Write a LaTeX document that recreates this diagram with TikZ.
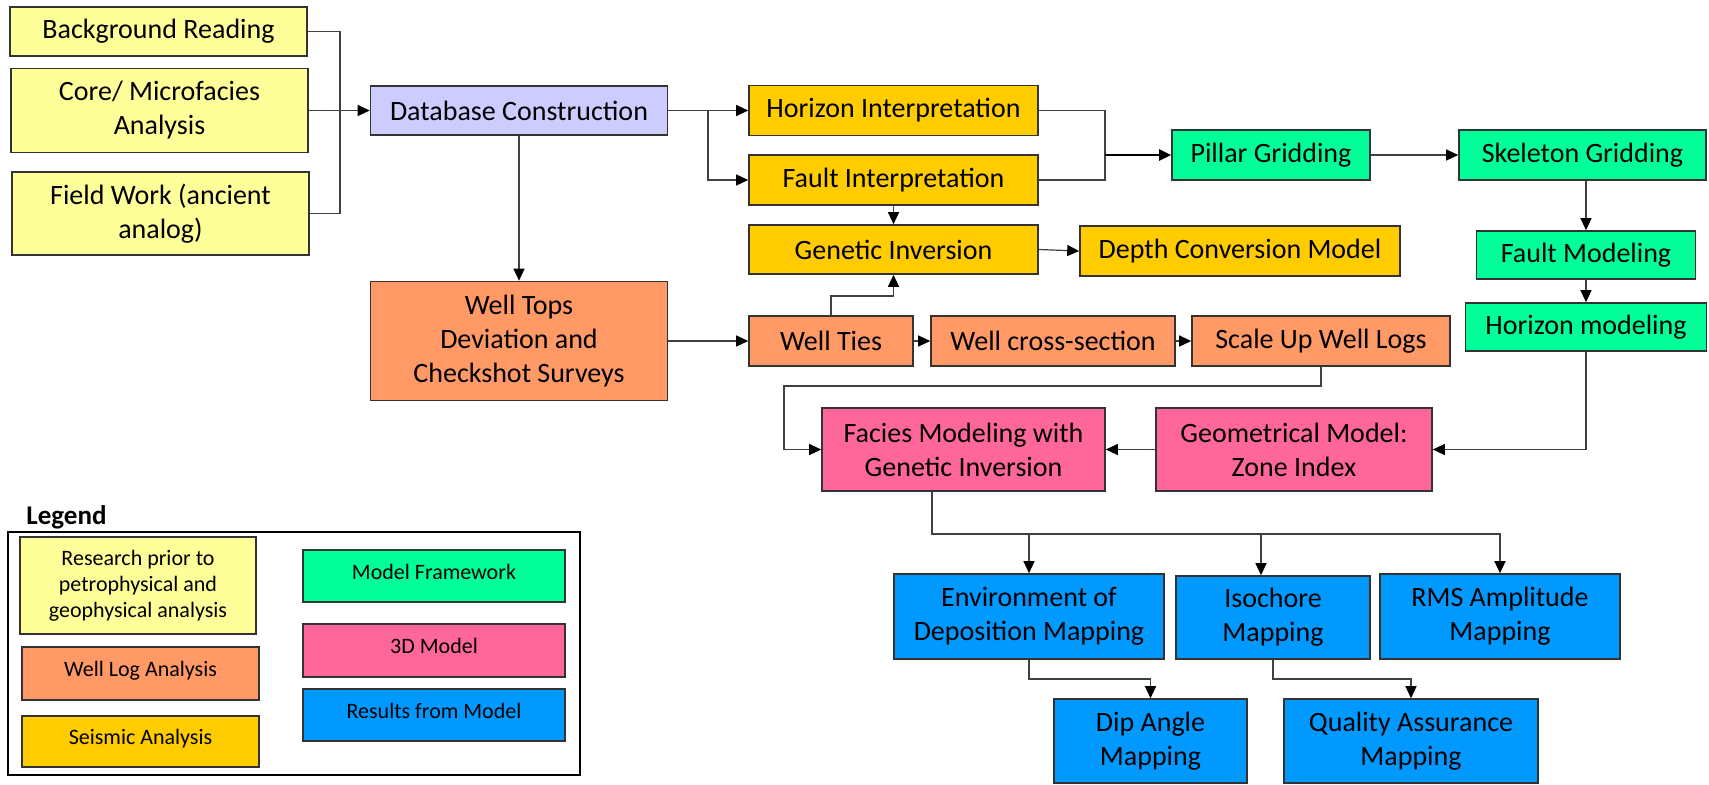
\documentclass[tikz,border=0pt]{standalone}
\usepackage{fontspec}
\setmainfont{Carlito}
\usepackage{tikz}
\usetikzlibrary{arrows.meta}

\definecolor{prior_yellow}{HTML}{FFFF99}
\definecolor{db_lilac}{HTML}{CCCCFF}
\definecolor{well_orange}{HTML}{FF9966}
\definecolor{seis_gold}{HTML}{FFCC00}
\definecolor{frame_green}{HTML}{00FF99}
\definecolor{model_pink}{HTML}{FF6699}
\definecolor{result_blue}{HTML}{0099FF}

\begin{document}
\begin{tikzpicture}[x=0.5pt,y=-0.5pt,
    flow_box/.style={draw=black!80,line width=0.8pt,inner sep=0pt,align=center,
        font=\fontsize{14}{17}\selectfont},
    key_box/.style={draw=black!80,line width=0.8pt,inner sep=0pt,align=center,
        font=\fontsize{11}{13}\selectfont},
    key_line/.style={key_box,text height=8pt,text depth=5pt},
    link/.style={draw=black!75,line width=0.6pt},
    link_arrow/.style={link,-{Triangle[length=6pt,width=5.5pt,color=black]}},
    bold_arrow/.style={draw=black,line width=1.2pt,-{Triangle[length=6pt,width=5.5pt]}}]
    \useasboundingbox (0,0) rectangle (1709,784);
    % research prior
    \node[flow_box,fill=prior_yellow,minimum width=148.5pt,minimum height=24.5pt] (bg) at (158.5,31.5) {Background Reading};
    \node[flow_box,fill=prior_yellow,minimum width=148.5pt,minimum height=42pt] (core) at (159.5,110.5) {Core/ Microfacies\\Analysis};
    \node[flow_box,fill=prior_yellow,minimum width=148.5pt,minimum height=41.5pt] (field) at (160.5,213.5) {Field Work (ancient\\analog)};
    \node[flow_box,fill=db_lilac,minimum width=148.5pt,minimum height=24.5pt] (db) at (519,110.5) {Database Construction};
    % well logs
    \node[flow_box,fill=well_orange,minimum width=148.5pt,minimum height=59.5pt] (wtops) at (519,341) {Well Tops\\Deviation and\\Checkshot Surveys};
    \node[flow_box,fill=well_orange,minimum width=82pt,minimum height=25pt] (ties) at (831,341) {Well Ties};
    \node[flow_box,fill=well_orange,minimum width=122pt,minimum height=25pt] (xsec) at (1053,341) {Well cross-section};
    \node[flow_box,fill=well_orange,minimum width=129pt,minimum height=25pt] (scale) at (1321,341) {Scale Up Well Logs};
    % seismic
    \node[flow_box,fill=seis_gold,minimum width=144.5pt,minimum height=25pt] (hor) at (893.5,110.5) {Horizon Interpretation};
    \node[flow_box,fill=seis_gold,minimum width=144.5pt,minimum height=25pt] (fault) at (893.5,180) {Fault Interpretation};
    \node[flow_box,fill=seis_gold,minimum width=144.5pt,minimum height=24.5pt] (gen) at (893.5,249.5) {Genetic Inversion};
    \node[flow_box,fill=seis_gold,minimum width=160pt,minimum height=25pt] (depth) at (1240,251) {Depth Conversion Model};
    % framework
    \node[flow_box,fill=frame_green,minimum width=99pt,minimum height=25pt] (pillar) at (1271,155) {Pillar Gridding};
    \node[flow_box,fill=frame_green,minimum width=123.5pt,minimum height=25pt] (skel) at (1582.5,155) {Skeleton Gridding};
    \node[flow_box,fill=frame_green,minimum width=109.5pt,minimum height=24pt] (fmod) at (1586,255) {Fault Modeling};
    \node[flow_box,fill=frame_green,minimum width=120.5pt,minimum height=24pt] (hmod) at (1586,327) {Horizon modeling};
    % 3D model
    \node[flow_box,fill=model_pink,minimum width=141.5pt,minimum height=41.5pt] (facies) at (963.5,449.5) {Facies Modeling with\\Genetic Inversion};
    \node[flow_box,fill=model_pink,minimum width=138pt,minimum height=41.5pt] (geom) at (1294,449.5) {Geometrical Model:\\Zone Index};
    % results
    \node[flow_box,fill=result_blue,minimum width=135pt,minimum height=42.5pt] (eod) at (1029,616.5) {Environment of\\Deposition Mapping};
    \node[flow_box,fill=result_blue,minimum width=97pt,minimum height=41.5pt] (iso) at (1273,617.5) {Isochore\\Mapping};
    \node[flow_box,fill=result_blue,minimum width=120pt,minimum height=42.5pt] (rms) at (1500,616.5) {RMS Amplitude\\Mapping};
    \node[flow_box,fill=result_blue,minimum width=96.5pt,minimum height=42pt] (dip) at (1150.5,741) {Dip Angle\\Mapping};
    \node[flow_box,fill=result_blue,minimum width=127pt,minimum height=42pt] (qa) at (1411,741) {Quality Assurance\\Mapping};

    % turning points
    \coordinate (in_bus) at (340,110.5);
    \coordinate (db_split) at (708,110.5);
    \coordinate (ip_join) at (1105,155);
    \coordinate (tie_turn) at (893.5,296);
    \coordinate (sc_turn) at (784,386);
    \coordinate (res_bus) at (932,534);
    \coordinate (iso_drop) at (1261,534);
    \coordinate (eod_turn) at (1029,679);
    \coordinate (iso_turn) at (1273,679);

    \draw[link] (bg.east) -| (in_bus);
    \draw[link] (field.east) -| (in_bus);
    \draw[link_arrow] (core.east) -- (db.west);
    \draw[link_arrow] (db.east) -- (hor.west);
    \draw[link_arrow] (db_split) |- (fault.west);
    \draw[link] (hor.east) -| (ip_join);
    \draw[link] (fault.east) -| (ip_join);
    \draw[bold_arrow] (ip_join) -- (pillar.west);
    \draw[link_arrow] (pillar) -- (skel);
    \draw[link_arrow] (skel.south -| fmod.north) -- (fmod.north);
    \draw[link_arrow] (fmod) -- (hmod);
    \draw[link_arrow] (hmod.south) |- (geom.east);
    \draw[link_arrow] (geom) -- (facies);
    \draw[link_arrow] (db) -- (wtops);
    \draw[link_arrow] (wtops) -- (ties);
    \draw[link_arrow] (ties.north) |- (tie_turn) -- (gen.south);
    \draw[link_arrow] (ties) -- (xsec);
    \draw[link_arrow] (xsec) -- (scale);
    \draw[link_arrow] (fault) -- (gen);
    \draw[link_arrow] (gen.east) -- (depth.west);
    \draw[link_arrow] (scale.south) |- (sc_turn) |- (facies.west);
    \draw[link_arrow] (facies.south -| res_bus) -- (res_bus) -| (rms.north);
    \draw[link_arrow] (res_bus -| eod.north) -- (eod.north);
    \draw[link_arrow] (iso_drop) -- (iso.north -| iso_drop);
    \draw[link_arrow] (eod.south) -- (eod_turn) -| (dip.north);
    \draw[link_arrow] (iso.south) -- (iso_turn) -| (qa.north);

    % legend
    \node[anchor=base west,inner sep=0pt,font=\fontsize{13.5}{16}\selectfont\bfseries] (key_title) at (26,524) {Legend};
    \draw[black,line width=1pt] (8,532) rectangle (580,775);
    \node[key_box,fill=prior_yellow,minimum width=118pt,minimum height=48.5pt] (key_prior) at (138,585.5) {Research prior to\\petrophysical and\\geophysical analysis};
    \node[key_line,fill=well_orange,minimum width=118.5pt,minimum height=26.5pt] (key_well) at (140.5,673.5) {Well Log Analysis};
    \node[key_line,fill=seis_gold,minimum width=118.5pt,minimum height=25.5pt] (key_seis) at (140.5,741.5) {Seismic Analysis};
    \node[key_line,fill=frame_green,minimum width=131pt,minimum height=26pt] (key_frame) at (434,576) {Model Framework};
    \node[key_line,fill=model_pink,minimum width=131pt,minimum height=26.5pt] (key_model) at (434,650.5) {3D Model};
    \node[key_line,fill=result_blue,minimum width=131pt,minimum height=26pt] (key_result) at (434,715) {Results from Model};
\end{tikzpicture}
\end{document}
